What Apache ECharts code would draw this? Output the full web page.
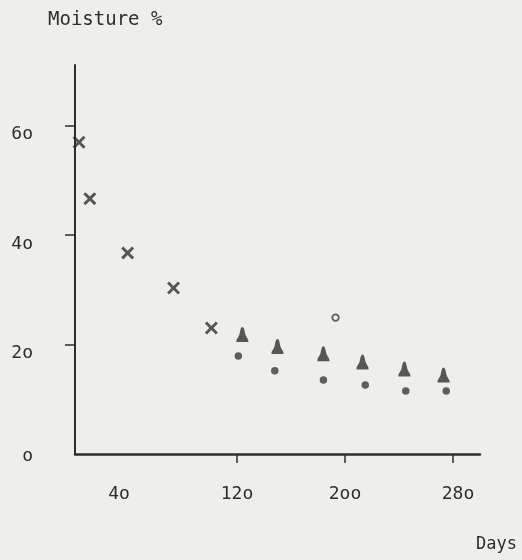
<!DOCTYPE html>
<html>
<head>
<meta charset="utf-8">
<script src="https://cdn.jsdelivr.net/npm/echarts@6/dist/echarts.min.js"></script>
<style>
  html, body { margin: 0; padding: 0; background: #eeeeeb; }
  #chart { width: 522px; height: 560px; }
</style>
</head>
<body>
<div id="chart"></div>
<script>
// Data (day, moisture %)
const crossSeries = [[3, 56.9], [11, 46.6], [39, 36.7], [73, 30.3], [101, 23.0]];
const triangleSeries = [[124, 21.8], [150, 19.6], [184, 18.3], [213, 16.8], [244, 15.5], [273, 14.4]];
const dotSeries = [[121, 17.9], [148, 15.2], [184, 13.5], [215, 12.6], [245, 11.5], [275, 11.5]];
const openCircleSeries = [[193, 24.9]];

// Tick positions and labels (typewriter style zeros)
const xTickValues = [120, 200, 280];
const xLabelValues = [40, 120, 200, 280];
const xLabelText = { 40: '4o', 120: '12o', 200: '2oo', 280: '28o' };
const yTickValues = [20, 40, 60];
const yLabelValues = [0, 20, 40, 60];
const yLabelText = { 0: 'o', 20: '2o', 40: '4o', 60: '6o' };

const FONT = 'DejaVu Sans Mono';
const INK = '#2e2e2e';
const MARK = '#2f2f2f';

const chart = echarts.init(document.getElementById('chart'));
chart.setOption({
  backgroundColor: '#eeeeeb',
  animation: false,
  title: [
    { text: 'Moisture %', left: 48, top: 11, padding: 0,
      textStyle: { fontFamily: FONT, fontSize: 19, fontWeight: 'normal', color: INK } },
    { text: 'Days', left: 476, top: 536, padding: 0,
      textStyle: { fontFamily: FONT, fontSize: 17, fontWeight: 'normal', color: INK } }
  ],
  grid: { left: 75, right: 42, top: 65, bottom: 106 },
  xAxis: {
    type: 'value', min: 0, max: 300,
    splitLine: { show: false },
    axisLine: { show: true, lineStyle: { color: INK, width: 2.5 } },
    axisTick: { show: true, customValues: xTickValues, length: 9, lineStyle: { color: INK, width: 1.5 } },
    axisLabel: {
      customValues: xLabelValues, margin: 31,
      fontFamily: FONT, fontSize: 18, color: INK,
      formatter: v => {
        const t = xLabelText[v];
        if (v === 40) return '{l|' + t + '}';
        if (v === 280) return '{r|' + t + '}';
        return '{n|' + t + '}';
      },
      rich: {
        n: { fontFamily: FONT, fontSize: 18, color: INK },
        l: { fontFamily: FONT, fontSize: 18, color: INK, padding: [0, 20, 0, 0] },
        r: { fontFamily: FONT, fontSize: 18, color: INK, padding: [0, 0, 0, 10] }
      }
    }
  },
  yAxis: {
    type: 'value', min: 0, max: 71,
    splitLine: { show: false },
    axisLine: { show: true, lineStyle: { color: INK, width: 2 } },
    axisTick: { show: true, customValues: yTickValues, length: 10, lineStyle: { color: INK, width: 1.5 } },
    axisLabel: {
      customValues: yLabelValues, margin: 42,
      fontFamily: FONT, fontSize: 18, color: INK,
      formatter: v => {
        const t = yLabelText[v];
        if (v === 0) return '{z|' + t + '}';
        return '{n|' + t + '}';
      },
      rich: {
        n: { fontFamily: FONT, fontSize: 18, color: INK, padding: [18, 0, 0, 0] },
        z: { fontFamily: FONT, fontSize: 18, color: INK, padding: [4, 0, 0, 0] }
      }
    }
  },
  series: [
    {
      type: 'scatter', data: crossSeries,
      symbol: 'path://M0,1.6L1.6,0L5,3.4L8.4,0L10,1.6L6.6,5L10,8.4L8.4,10L5,6.6L1.6,10L0,8.4L3.4,5Z',
      symbolSize: 13,
      itemStyle: { color: MARK }
    },
    {
      type: 'scatter', data: triangleSeries,
      symbol: 'path://M5,0C6.3,0 6.8,3 7.3,5.5C7.8,8.5 10,10 10,12L10,13L0,13L0,12C0,10 2.2,8.5 2.7,5.5C3.2,3 3.7,0 5,0Z',
      symbolSize: [12, 15],
      itemStyle: { color: MARK }
    },
    {
      type: 'scatter', data: dotSeries,
      symbol: 'circle', symbolSize: 7.5,
      itemStyle: { color: '#3a3a3a' }
    },
    {
      type: 'scatter', data: openCircleSeries,
      symbol: 'circle', symbolSize: 6.5,
      itemStyle: { color: '#eeeeeb', borderColor: '#3a3a3a', borderWidth: 1.8 }
    }
  ]
});
</script>
</body>
</html>
